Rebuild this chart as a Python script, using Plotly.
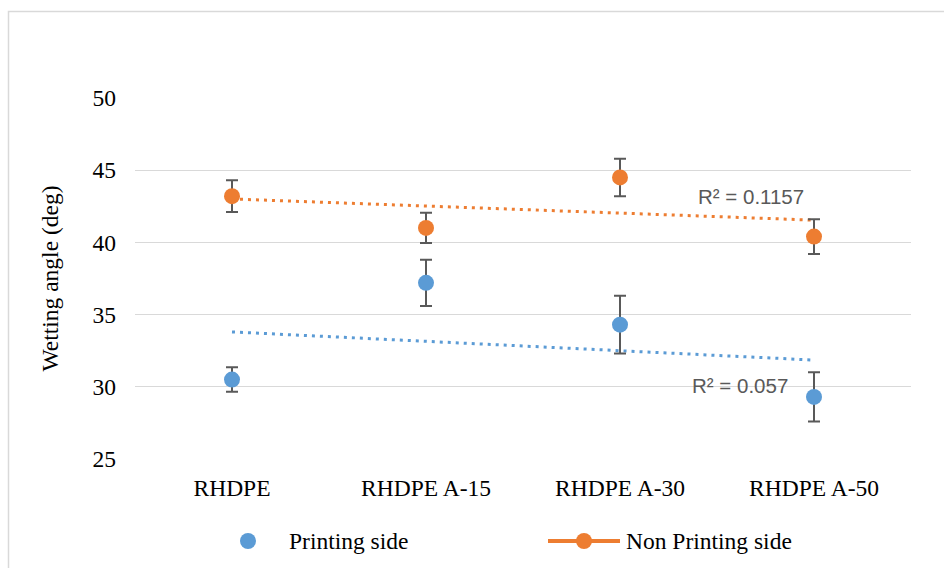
import numpy as np
import plotly.graph_objects as go

# ---- data ----
categories = ["RHDPE", "RHDPE A-15", "RHDPE A-30", "RHDPE A-50"]
printing_side = [30.5, 37.2, 34.3, 29.3]
printing_err = [0.85, 1.6, 2.0, 1.7]
non_printing_side = [43.2, 41.0, 44.5, 40.4]
non_printing_err = [1.1, 1.05, 1.3, 1.2]
r2_labels = ["R² = 0.057", "R² = 0.1157"]
y_ticks = [25, 30, 35, 40, 45, 50]

BLUE = "#5B9BD5"
ORANGE = "#ED7D31"
GREY = "#595959"
GRID = "#D9D9D9"
SERIF = "Liberation Serif, Times New Roman, serif"
SANS = "Liberation Sans, Arial, sans-serif"
FS = 23.5

W, H = 944, 568
M = dict(l=135, r=33, t=98, b=109)
PW = W - M["l"] - M["r"]
PH = H - M["t"] - M["b"]


def px_x(px):
    return (px - M["l"]) / PW


def px_y(py):
    return (H - M["b"] - py) / PH


xs = np.arange(len(categories))

fig = go.Figure()


def add_series(vals, errs, color):
    # linear trend line (dotted) over the four samples
    slope, icpt = np.polyfit(xs, vals, 1)
    tx = np.array([xs[0], xs[-1]])
    fig.add_trace(go.Scatter(
        x=tx, y=slope * tx + icpt, mode="lines",
        line=dict(color=color, width=3, dash="3px,5px"),
        hoverinfo="skip", showlegend=False))
    fig.add_trace(go.Scatter(
        x=xs, y=vals, mode="markers",
        marker=dict(color=color, size=16),
        error_y=dict(type="data", array=errs, visible=True,
                     color=GREY, thickness=2, width=6),
        showlegend=False))


add_series(printing_side, printing_err, BLUE)
add_series(non_printing_side, non_printing_err, ORANGE)

# R² labels next to the trend lines
fig.add_annotation(x=2.62, y=30.1, text=r2_labels[0], showarrow=False,
                   font=dict(family=SANS, size=20.5, color=GREY))
fig.add_annotation(x=2.675, y=43.15, text=r2_labels[1], showarrow=False,
                   font=dict(family=SANS, size=20.5, color=GREY))

shapes = []
# outer chart frame
shapes.append(dict(type="rect", xref="paper", yref="paper",
                   x0=px_x(8.5), x1=px_x(960), y0=px_y(590), y1=px_y(11.5),
                   line=dict(color=GRID, width=1.5), fillcolor="rgba(0,0,0,0)",
                   layer="below"))

# legend
ly = 541
r = 8
shapes.append(dict(type="circle", xref="paper", yref="paper",
                   x0=px_x(248 - r), x1=px_x(248 + r),
                   y0=px_y(ly + r), y1=px_y(ly - r),
                   fillcolor=BLUE, line=dict(width=0)))
shapes.append(dict(type="line", xref="paper", yref="paper",
                   x0=px_x(548), x1=px_x(620), y0=px_y(ly), y1=px_y(ly),
                   line=dict(color=ORANGE, width=4)))
shapes.append(dict(type="circle", xref="paper", yref="paper",
                   x0=px_x(584 - r), x1=px_x(584 + r),
                   y0=px_y(ly + r), y1=px_y(ly - r),
                   fillcolor=ORANGE, line=dict(width=0)))
fig.add_annotation(xref="paper", yref="paper", x=px_x(287), y=px_y(ly),
                   xanchor="left", yanchor="middle", text="Printing side",
                   showarrow=False, font=dict(family=SERIF, size=FS, color="black"))
fig.add_annotation(xref="paper", yref="paper", x=px_x(624), y=px_y(ly),
                   xanchor="left", yanchor="middle", text="Non Printing side",
                   showarrow=False, font=dict(family=SERIF, size=FS, color="black"))

fig.update_layout(
    width=W, height=H, margin=M,
    paper_bgcolor="white", plot_bgcolor="white",
    shapes=shapes,
    showlegend=False,
    xaxis=dict(range=[-0.5, 3.5], tickvals=list(xs), ticktext=categories,
               showgrid=False, zeroline=False, showline=False,
               ticks="", ticklabelstandoff=12,
               tickfont=dict(family=SERIF, size=FS, color="black")),
    yaxis=dict(range=[25, 50], tickvals=y_ticks, showgrid=True,
               gridcolor=GRID, gridwidth=1.3, zeroline=False, showline=False,
               ticks="", ticklabelstandoff=18,
               tickfont=dict(family=SERIF, size=FS, color="black"),
               title=dict(text="Wetting angle (deg)", standoff=27,
                          font=dict(family=SERIF, size=FS, color="black"))),
)

fig.write_html("out.html")
